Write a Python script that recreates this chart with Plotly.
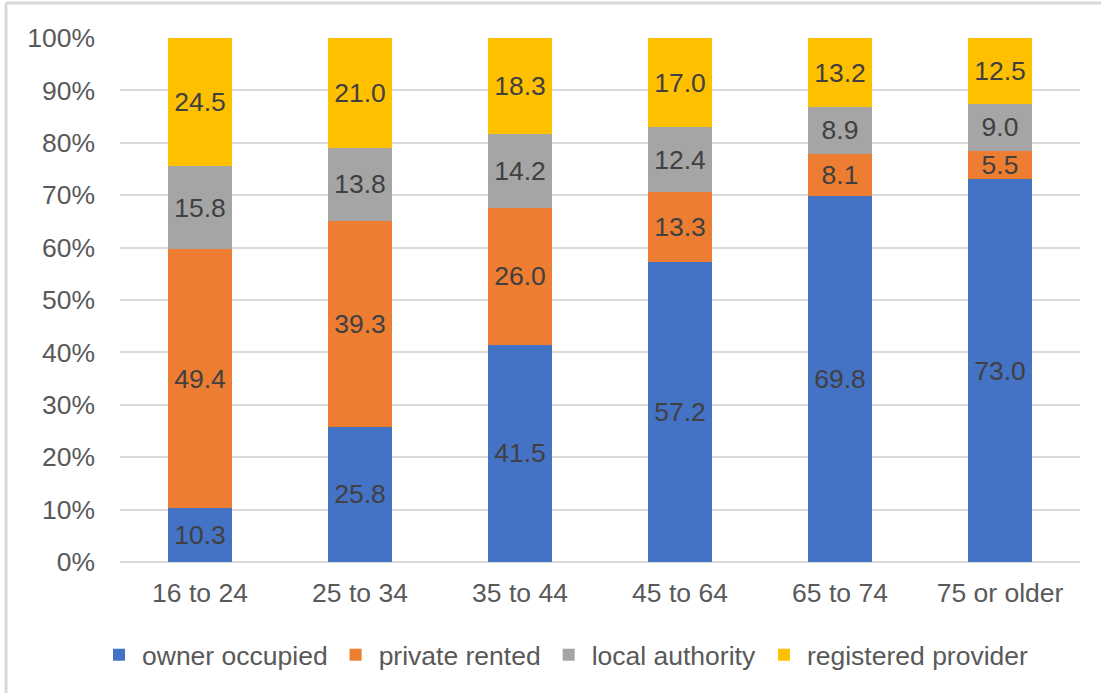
import plotly.graph_objects as go

age_groups = ["16 to 24", "25 to 34", "35 to 44", "45 to 64", "65 to 74", "75 or older"]
owner_occupied = [10.3, 25.8, 41.5, 57.2, 69.8, 73.0]
private_rented = [49.4, 39.3, 26.0, 13.3, 8.1, 5.5]
local_authority = [15.8, 13.8, 14.2, 12.4, 8.9, 9.0]
registered_provider = [24.5, 21.0, 18.3, 17.0, 13.2, 12.5]

series = [
    ("owner occupied", owner_occupied, "#4472C4"),
    ("private rented", private_rented, "#ED7D31"),
    ("local authority", local_authority, "#A5A5A5"),
    ("registered provider", registered_provider, "#FFC000"),
]

W, H = 1101, 693
L, R, T, B = 120, 21, 38, 131
pw, ph = W - L - R, H - T - B
FONT = "Liberation Sans, Arial, sans-serif"
FS = 26.5

fig = go.Figure()
for name, vals, color in series:
    fig.add_trace(go.Bar(
        name=name,
        x=age_groups,
        y=vals,
        marker=dict(color=color, line=dict(width=0)),
        text=[f"{v:.1f}" for v in vals],
        textposition="inside",
        insidetextanchor="middle",
        textangle=0,
        constraintext="none",
        textfont=dict(family=FONT, size=FS, color="#404040"),
        hoverinfo="name+y",
    ))

fig.update_layout(
    barmode="stack",
    barnorm="percent",
    bargap=0.605,
    width=W,
    height=H,
    margin=dict(l=L, r=R, t=T, b=B),
    paper_bgcolor="white",
    plot_bgcolor="white",
    font=dict(family=FONT, size=FS, color="#595959"),
    legend=dict(
        orientation="h",
        x=(565 - L) / pw, xanchor="center",
        y=-(655 - 562) / ph, yanchor="middle",
        font=dict(family=FONT, size=FS, color="#595959"),
        traceorder="normal",
        itemwidth=36,
    ),
    xaxis=dict(
        showgrid=False,
        showline=False,
        ticks="",
        tickfont=dict(family=FONT, size=FS, color="#595959"),
        ticklabelstandoff=12,
    ),
    yaxis=dict(
        range=[0, 100],
        dtick=10,
        ticksuffix="%",
        showgrid=True,
        gridcolor="#D9D9D9",
        gridwidth=1.5,
        zeroline=True,
        zerolinecolor="#D9D9D9",
        zerolinewidth=1.5,
        showline=False,
        ticks="",
        tickfont=dict(family=FONT, size=FS, color="#595959"),
        ticklabelstandoff=24,
    ),
    shapes=[
        dict(type="line", xref="paper", yref="paper",
             x0=(6 - L) / pw, x1=(W + 5 - L) / pw,
             y0=(H - B - 3) / ph, y1=(H - B - 3) / ph,
             line=dict(color="#D9D9D9", width=3)),
        dict(type="line", xref="paper", yref="paper",
             x0=(6 - L) / pw, x1=(6 - L) / pw,
             y0=(H - B - 3) / ph, y1=-(B + 5) / ph,
             line=dict(color="#D9D9D9", width=3)),
    ],
)

fig.write_html("out.html")
